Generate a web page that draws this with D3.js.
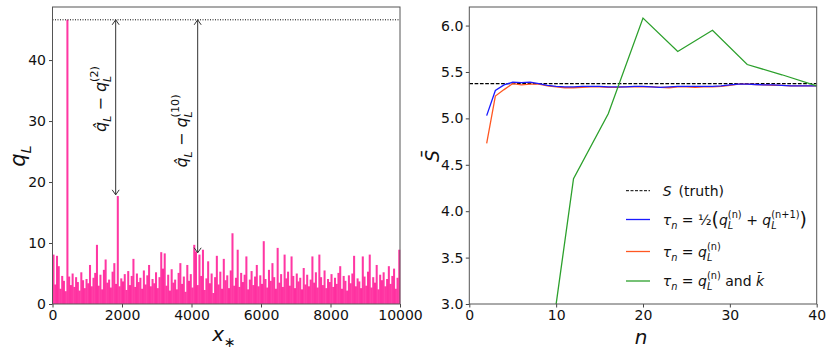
<!DOCTYPE html>
<html><head><meta charset="utf-8">
<script src="https://cdn.jsdelivr.net/npm/d3@7"></script>
<style>body{margin:0;background:#fff}svg{display:block}</style>
</head><body>
<svg id="c" width="831" height="353"></svg>
<script>
// ---------- data ----------
const binWidth = 50;
const qL = [
 8.1,3.2,7.9,6.2,2.5,4.6,3.8,2.1,46.6,4.5,3.1,5.0,2.8,4.4,3.6,2.2,5.2,3.9,2.6,4.1,
 3.4,6.4,2.9,4.3,5.1,9.7,3.0,4.8,2.4,5.6,7.3,3.5,4.0,2.7,5.3,6.7,3.3,17.7,2.9,4.2,
 3.7,4.9,2.3,5.4,3.1,4.6,7.4,2.8,5.0,3.6,4.3,2.5,5.5,3.2,4.7,6.4,2.9,4.1,3.4,5.2,
 2.6,4.4,8.5,5.8,8.3,3.0,4.8,2.2,5.7,3.5,4.0,2.4,5.1,6.7,3.3,4.5,2.0,6.4,3.8,4.9,
 2.7,9.7,8.6,3.1,8.1,4.6,8.9,2.3,4.2,7.0,3.4,5.0,1.8,4.4,7.9,3.2,5.3,2.5,7.4,3.9,
 4.7,2.6,5.5,11.6,3.0,4.3,8.9,2.8,5.1,3.6,4.8,7.8,2.4,4.0,5.4,3.1,4.5,6.4,2.9,4.7,
 3.3,10.3,4.1,2.7,5.6,3.8,6.7,4.4,2.5,9.2,3.5,4.9,2.8,8.1,4.2,5.3,3.0,7.8,4.6,2.6,
 5.0,3.7,4.3,2.4,5.9,3.2,4.8,2.9,4.0,7.8,3.5,5.2,2.7,8.1,4.4,3.1,5.5,2.6,4.1,3.6,
 4.9,2.8,4.3,3.3,5.1,6.2,2.5,4.6,3.8,2.2,4.7,3.4,5.0,7.9,2.9,4.2,3.7,2.6,7.8,4.5,
 3.0,5.3,8.1,2.7,4.4,3.5,6.4,2.4,4.8,3.9,5.2,2.9,4.1,6.2,3.3,4.6,5.8,2.5,4.3,8.9
];
const qHat = 46.6;
const arrowX = [1818, 4178];
const arrowLow = [17.9, 8.4];
const leftXTicks = [0, 2000, 4000, 6000, 8000, 10000];
const leftYTicks = [0, 10, 20, 30, 40];

const nBlue = d3.range(2, 41);
const sBlue = [5.03,5.30,5.36,5.39,5.385,5.39,5.375,5.355,5.345,5.34,5.34,5.345,5.345,5.345,5.34,5.34,5.34,5.345,5.345,5.34,5.335,5.34,5.345,5.345,5.345,5.345,5.345,5.35,5.36,5.37,5.37,5.365,5.36,5.36,5.355,5.35,5.35,5.35,5.35];
const nOrange = d3.range(2, 41);
const sOrange = [4.73,5.24,5.31,5.375,5.36,5.37,5.37,5.35,5.34,5.33,5.33,5.335,5.34,5.34,5.335,5.335,5.34,5.34,5.34,5.34,5.335,5.33,5.34,5.34,5.335,5.34,5.34,5.345,5.355,5.37,5.37,5.365,5.36,5.355,5.355,5.35,5.35,5.35,5.35];
const nGreen = [8, 12, 16, 20, 24, 28, 32, 36, 40];
const sGreen = [1.65, 4.35, 5.05, 6.08, 5.72, 5.95, 5.58, 5.47, 5.35];
const sTruth = 5.374;
const rightXTicks = [0, 10, 20, 30, 40];
const rightYTicks = [3.0, 3.5, 4.0, 4.5, 5.0, 5.5, 6.0];

const FONT = "DejaVu Sans";

const svg = d3.select("#c");

function math(g, x, y, parts, size, anchor, rot) {
  const t = g.append("text")
    .attr("transform", `translate(${x},${y}) rotate(${rot||0})`)
    .attr("text-anchor", anchor || "start")
    .attr("font-family", FONT).attr("font-size", size).attr("fill", "#111");
  let cur = 0, pendingDx = 0;
  function add(s, opt) {
    const target = (opt.off || 0) * size;
    const sp = t.append("tspan").text(s)
      .attr("dy", target - cur)
      .attr("font-style", opt.it ? "italic" : "normal")
      .attr("font-size", (opt.sc || 1) * size);
    const dx = (opt.dx || 0) + pendingDx;
    if (dx) sp.attr("dx", dx);
    pendingDx = 0;
    cur = target;
    return sp;
  }
  parts.forEach(p => {
    const [s, k] = p;
    if (k === "i") add(s, {it: true});
    else if (k === "r") add(s, {});
    else if (k === "big") add(s, {sc: 1.35, off: 0.08});
    else if (k === "sub") add(s, {it: true, sc: 0.7, off: 0.3});
    else if (k === "subsup") {
      const a = add(s, {it: true, sc: 0.7, off: 0.3});
      const w = a.node().getComputedTextLength();
      const b = add(p[2], {sc: 0.7, off: -0.5, dx: -w});
      const w2 = b.node().getComputedTextLength();
      if (w > w2) pendingDx = w - w2;
    }
  });
  return t;
}
function styleAxis(a) {
  a.select(".domain").remove();
  a.attr("font-family", null).attr("font-size", null);
  a.selectAll("text").attr("font-family", FONT).attr("font-size", 14).attr("fill", "#111");
  a.selectAll("line").attr("stroke", "#444");
}

// ---------- left panel ----------
const L = {x0: 52.5, x1: 400, y0: 7, y1: 304};
const xL = d3.scaleLinear().domain([0, 10000]).range([L.x0, L.x1]);
const yL = d3.scaleLinear().domain([0, 48.7]).range([L.y1, L.y0]);
const gL = svg.append("g");

gL.append("g").selectAll("rect").data(qL).join("rect")
  .attr("x", (d, i) => xL(i * binWidth))
  .attr("width", xL(binWidth) - xL(0) + 0.3)
  .attr("y", d => yL(d))
  .attr("height", d => yL(0) - yL(d))
  .attr("fill", "#ff1493").attr("fill-opacity", 0.85);

gL.append("line").attr("x1", L.x0).attr("x2", L.x1)
  .attr("y1", yL(qHat)).attr("y2", yL(qHat))
  .attr("stroke", "#000").attr("stroke-width", 1).attr("stroke-dasharray", "1,1.5");

const defs = svg.append("defs");
defs.append("marker").attr("id", "ah").attr("viewBox", "-6 -5 7 10")
  .attr("refX", 0).attr("refY", 0).attr("markerWidth", 7).attr("markerHeight", 10)
  .attr("markerUnits", "userSpaceOnUse").attr("orient", "auto-start-reverse")
  .append("path").attr("d", "M-5,-3.5 L0,0 L-5,3.5").attr("fill", "none")
  .attr("stroke", "#333").attr("stroke-width", 1);

arrowX.forEach((ax, i) => {
  gL.append("line").attr("x1", xL(ax)).attr("x2", xL(ax))
    .attr("y1", yL(qHat)).attr("y2", yL(arrowLow[i]))
    .attr("stroke", "#333").attr("stroke-width", 1)
    .attr("marker-start", "url(#ah)").attr("marker-end", "url(#ah)");
});

math(gL, 106, 99, [["q\u0302", "i"], ["L", "sub"], [" \u2212 ", "r"], ["q", "i"], ["L", "subsup", "(2)"]], 16, "middle", -90);
math(gL, 187, 131, [["q\u0302", "i"], ["L", "sub"], [" \u2212 ", "r"], ["q", "i"], ["L", "subsup", "(10)"]], 16, "middle", -90);

const axLb = gL.append("g").attr("transform", `translate(0,${L.y1})`)
  .call(d3.axisBottom(xL).tickValues(leftXTicks).tickSize(3.5).tickPadding(3).tickFormat(d3.format("d")));
const axLl = gL.append("g").attr("transform", `translate(${L.x0},0)`)
  .call(d3.axisLeft(yL).tickValues(leftYTicks).tickSize(3.5).tickPadding(3).tickFormat(d3.format("d")));
styleAxis(axLb); styleAxis(axLl);
gL.append("rect").attr("x", L.x0).attr("y", L.y0).attr("width", L.x1 - L.x0).attr("height", L.y1 - L.y0)
  .attr("fill", "none").attr("stroke", "#555").attr("stroke-width", 1);

math(gL, 25, 156, [["q", "i"], ["L", "sub"]], 21, "middle", -90);
math(gL, 224, 341, [["x", "i"], ["\u2217", "sub"]], 20, "middle", 0);

// ---------- right panel ----------
const R = {x0: 469.3, x1: 816.7, y0: 7, y1: 304};
const xR = d3.scaleLinear().domain([0, 40]).range([R.x0, R.x1]);
const yR = d3.scaleLinear().domain([3.0, 6.2]).range([R.y1, R.y0]);
const gR = svg.append("g");
defs.append("clipPath").attr("id", "clipR").append("rect")
  .attr("x", R.x0).attr("y", R.y0).attr("width", R.x1 - R.x0).attr("height", R.y1 - R.y0);
const plot = gR.append("g").attr("clip-path", "url(#clipR)");

plot.append("line").attr("x1", R.x0).attr("x2", R.x1).attr("y1", yR(sTruth)).attr("y2", yR(sTruth))
  .attr("stroke", "#000").attr("stroke-width", 1.2).attr("stroke-dasharray", "3.7,1.6");
const line = d3.line().x(d => xR(d[0])).y(d => yR(d[1]));
const series = [
  {n: nOrange, s: sOrange, c: "#ff5722"},
  {n: nBlue, s: sBlue, c: "#1a1aff"},
  {n: nGreen, s: sGreen, c: "#2ca02c"}
];
series.forEach(sr => {
  plot.append("path").attr("d", line(sr.n.map((n, i) => [n, sr.s[i]])))
    .attr("fill", "none").attr("stroke", sr.c).attr("stroke-width", 1.3);
});

const axRb = gR.append("g").attr("transform", `translate(0,${R.y1})`)
  .call(d3.axisBottom(xR).tickValues(rightXTicks).tickSize(3.5).tickPadding(3).tickFormat(d3.format("d")));
const axRl = gR.append("g").attr("transform", `translate(${R.x0},0)`)
  .call(d3.axisLeft(yR).tickValues(rightYTicks).tickSize(3.5).tickPadding(2.5).tickFormat(d3.format(".1f")));
styleAxis(axRb); styleAxis(axRl);
gR.append("rect").attr("x", R.x0).attr("y", R.y0).attr("width", R.x1 - R.x0).attr("height", R.y1 - R.y0)
  .attr("fill", "none").attr("stroke", "#555").attr("stroke-width", 1);

math(gR, 641, 344, [["n", "i"]], 20, "middle", 0);
math(gR, 439, 156, [["S\u0304", "i"]], 19, "middle", -90);

// legend
const legY = [190.7, 219.5, 251.5, 281];
const legC = ["#000", "#1a1aff", "#ff5722", "#2ca02c"];
legY.forEach((y, i) => {
  gR.append("line").attr("x1", 626).attr("x2", 650).attr("y1", y).attr("y2", y)
    .attr("stroke", legC[i]).attr("stroke-width", i === 0 ? 1 : 1.3)
    .attr("stroke-dasharray", i === 0 ? "3,1.5" : null);
});
math(gR, 662.7, 195.5, [["S", "i"], ["\u2002(truth)", "r"]], 14, "start");
math(gR, 662.7, 224.5, [["\u03c4", "i"], ["n", "sub"], [" = ", "r"], ["\u00bd", "r"], ["(", "big"], ["q", "i"], ["L", "subsup", "(n)"], [" + ", "r"], ["q", "i"], ["L", "subsup", "(n+1)"], [")", "big"]], 14, "start");
math(gR, 662.7, 256.5, [["\u03c4", "i"], ["n", "sub"], [" = ", "r"], ["q", "i"], ["L", "subsup", "(n)"]], 14, "start");
math(gR, 662.7, 286, [["\u03c4", "i"], ["n", "sub"], [" = ", "r"], ["q", "i"], ["L", "subsup", "(n)"], [" and ", "r"], ["k\u0304", "i"]], 14, "start");
</script>
</body></html>
